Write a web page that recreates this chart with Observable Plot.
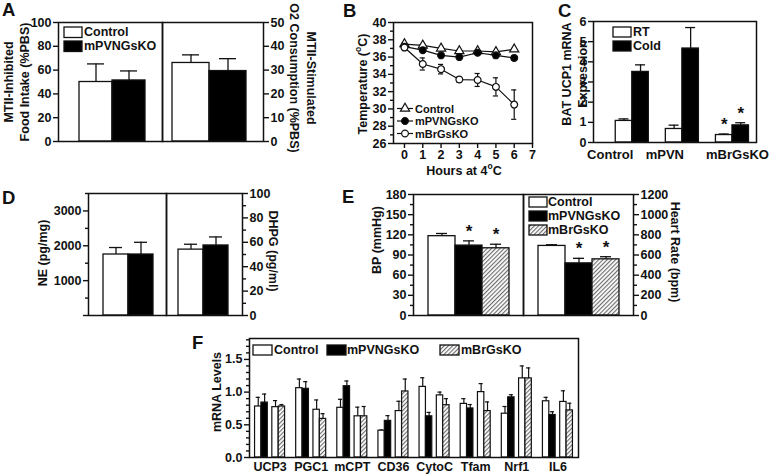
<!DOCTYPE html>
<html><head><meta charset="utf-8">
<script src="https://cdn.jsdelivr.net/npm/d3@7"></script>
<script src="https://cdn.jsdelivr.net/npm/@observablehq/plot@0.6"></script>
<style>
body{margin:0;background:#fff;}
#fig{position:relative;width:771px;height:476px;overflow:hidden;background:#fff;font-family:"Liberation Sans",Arial,sans-serif;}
</style></head><body>
<svg width="0" height="0" style="position:absolute"><defs>
<pattern id="hatch" patternUnits="userSpaceOnUse" width="3" height="3" patternTransform="rotate(45)">
<rect width="3" height="3" fill="#fff"/><line x1="0.6" y1="0" x2="0.6" y2="3" stroke="#666" stroke-width="1.1"/>
</pattern></defs></svg>
<div id="fig"></div>
<script>
// ---------- DATA ----------
// Panel A
const aGroups = ["Control", "mPVNGsKO"];
const aFoodMean = [50, 51.3];
const aFoodErr = [15.2, 8];
const aO2Mean = [33, 29.6];
const aO2Err = [3.4, 5.2];
const aFoodTicks = [0, 20, 40, 60, 80, 100];
const aO2Ticks = [0, 10, 20, 30, 40, 50];
// Panel B
const bSeries = ["Control", "mPVNGsKO", "mBrGsKO"];
const bHours = [0, 1, 2, 3, 4, 5, 6];
const bControl = [37.5, 37.35, 37.0, 36.7, 36.7, 36.6, 36.9];
const bControlErr = [0.1, 0.1, 0.1, 0.1, 0.1, 0.1, 0.1];
const bPVN = [37.2, 36.8, 36.2, 36.0, 36.5, 36.2, 35.9];
const bPVNErr = [0.15, 0.15, 0.15, 0.15, 0.2, 0.3, 0.25];
const bBr = [37.1, 35.2, 34.6, 33.4, 33.35, 32.55, 30.5];
const bBrErr = [0.2, 0.7, 0.55, 0.3, 0.75, 1.05, 1.7];
const bXTicks = [0, 1, 2, 3, 4, 5, 6, 7];
const bYTicks = [26, 28, 30, 32, 34, 36, 38, 40];
const bYMinor = [27, 29, 31, 33, 35, 37, 39];
// Panel C
const cGroups = ["Control", "mPVN", "mBrGsKO"];
const cConds = ["RT", "Cold"];
const cRT = [1.07, 0.67, 0.37];
const cRTErr = [0.1, 0.19, 0.05];
const cCold = [3.5, 4.66, 0.85];
const cColdErr = [0.35, 1.04, 0.13];
const cStar = [false, false, true];
const cTicks = [0, 1, 2, 3, 4, 5, 6];
// Panel D
const dGroups = ["Control", "mPVNGsKO"];
const dNE = [1750, 1750];
const dNEErr = [200, 350];
const dDHPG = [54, 57.4];
const dDHPGErr = [4.4, 7];
const dNETicks = [0, 1000, 2000, 3000];
const dNEMinor = [500, 1500, 2500, 3500];
const dDHPGTicks = [0, 20, 40, 60, 80, 100];
const dDHPGMinor = [10, 30, 50, 70, 90];
// Panel E
const eGroups = ["Control", "mPVNGsKO", "mBrGsKO"];
const eBP = [118, 104, 100];
const eBPErr = [4, 7, 6];
const eHR = [690, 517, 557];
const eHRErr = [12, 50, 26];
const eStar = [false, true, true];
const eBPTicks = [0, 30, 60, 90, 120, 150, 180];
const eBPMinor = [15, 45, 75, 105, 135, 165];
const eHRTicks = [0, 200, 400, 600, 800, 1000, 1200];
const eHRMinor = [100, 300, 500, 700, 900, 1100];
// Panel F
const fGenes = ["UCP3", "PGC1", "mCPT", "CD36", "CytoC", "Tfam", "Nrf1", "IL6"];
const fSeriesNames = ["Control", "mPVNGsKO", "mBrGsKO"];
const fCtrl1 = [0.78, 1.06, 0.76, 0.41, 1.08, 0.82, 0.67, 0.86];
const fCtrl1Err = [0.14, 0.14, 0.13, 0.01, 0.14, 0.08, 0.11, 0.06];
const fPVN = [0.84, 1.05, 1.09, 0.56, 0.63, 0.75, 0.92, 0.65];
const fPVNErr = [0.13, 0.11, 0.08, 0.08, 0.06, 0.06, 0.04, 0.05];
const fCtrl2 = [0.77, 0.73, 0.63, 0.71, 0.95, 1.0, 1.21, 0.85];
const fCtrl2Err = [0.1, 0.15, 0.14, 0.15, 0.05, 0.13, 0.19, 0.17];
const fBr = [0.78, 0.59, 0.63, 1.01, 0.8, 0.71, 1.21, 0.72];
const fBrErr = [0.03, 0.08, 0.15, 0.19, 0.1, 0.14, 0.16, 0.11];
const fTicks = [0, 0.5, 1.0, 1.5];
const fMinor = [0.1, 0.2, 0.3, 0.4, 0.6, 0.7, 0.8, 0.9, 1.1, 1.2, 1.3, 1.4, 1.6, 1.7, 1.8];

// ---------- HELPERS ----------
const W = 771, H = 476;
const fig = document.getElementById("fig");
const FONT = "Liberation Sans, Arial, sans-serif";
const INK = "#111";
const SW = 1.3;
const groupColor = {domain: ["Control", "mPVNGsKO", "mBrGsKO"], range: ["#fff", "#000", "url(#hatch)"]};

function place(frame, opts) {
  const [x1, y1, x2, y2] = frame;
  const m = 40;
  const svg = Plot.plot({
    width: x2 - x1 + 2 * m, height: y2 - y1 + 2 * m,
    marginTop: m, marginRight: m, marginBottom: m, marginLeft: m,
    style: {background: "transparent", overflow: "visible", fontFamily: FONT, fontSize: "12.5px", fontWeight: "bold", color: INK},
    ...opts
  });
  Object.assign(svg.style, {position: "absolute", left: (x1 - m) + "px", top: (y1 - m) + "px", maxWidth: "none", height: (y2 - y1 + 2 * m) + "px"});
  fig.appendChild(svg);
  return svg;
}
function yAxis(anchor, ticks, minor, fmt) {
  const out = [];
  if (minor) out.push(Plot.axisY({anchor, ticks: minor, tickSize: 3, tickFormat: () => "", label: null, strokeWidth: 1.4}));
  out.push(Plot.axisY({anchor, ticks, tickSize: 5, tickPadding: 2, tickFormat: fmt ?? (d => String(d)), label: null, fontSize: 12.5, fontWeight: "bold", strokeWidth: 1.4}));
  return out;
}
function groupBars(groups, means, errs, stars, cap) {
  const rows = groups.map((g, i) => ({g, v: means[i], t: means[i] + errs[i], star: stars ? stars[i] : false}));
  return [
    Plot.ruleX(rows, {x: "g", y1: "v", y2: "t", stroke: INK, strokeWidth: SW}),
    Plot.tickY(rows, {x: "g", y: "t", stroke: INK, strokeWidth: SW, insetLeft: cap, insetRight: cap}),
    Plot.barY(rows, {x: "g", y: "v", fill: "g", stroke: INK, strokeWidth: SW}),
    Plot.text(rows.filter(d => d.star), {x: "g", y: "t", text: () => "*", dy: -4, fontSize: 17, fontWeight: "bold", lineAnchor: "bottom"})
  ];
}
const frameMark = () => Plot.frame({stroke: INK, strokeWidth: 1.5});

// ---------- PANEL A ----------
place([58, 22, 162, 141], {
  x: {type: "band", domain: aGroups, paddingInner: 0, paddingOuter: 0.53, align: 0.556, axis: null},
  y: {domain: [0, 100], label: null}, color: groupColor,
  marks: [...groupBars(aGroups, aFoodMean, aFoodErr, null, 8), frameMark(), ...yAxis("left", aFoodTicks)]
});
place([162, 22, 263, 141], {
  x: {type: "band", domain: aGroups, paddingInner: 0, paddingOuter: 0.347, align: 0.385, axis: null},
  y: {domain: [0, 50], label: null}, color: groupColor,
  marks: [...groupBars(aGroups, aO2Mean, aO2Err, null, 10), frameMark(), ...yAxis("right", aO2Ticks)]
});

// ---------- PANEL B ----------
const bMeans = [bControl, bPVN, bBr], bErrs = [bControlErr, bPVNErr, bBrErr];
const bRows = [];
bSeries.forEach((s, k) => bHours.forEach((h, j) => bRows.push({s, h, v: bMeans[k][j], e: bErrs[k][j]})));
const capH = 0.14;
place([393, 22, 532, 143], {
  x: {domain: [-0.6, 7], label: null},
  y: {domain: [26, 40], label: null},
  color: {domain: bSeries, range: ["#fff", "#000", "#fff"]},
  symbol: {domain: bSeries, range: ["triangle", "circle", "circle"]},
  marks: [
    Plot.line(bRows, {x: "h", y: "v", z: "s", stroke: INK, strokeWidth: 1.2}),
    Plot.ruleX(bRows, {x: "h", y1: d => d.v - d.e, y2: d => d.v + d.e, stroke: INK, strokeWidth: 1.2}),
    Plot.ruleY(bRows, {y: d => d.v + d.e, x1: d => d.h - capH, x2: d => d.h + capH, stroke: INK, strokeWidth: 1.2}),
    Plot.ruleY(bRows, {y: d => d.v - d.e, x1: d => d.h - capH, x2: d => d.h + capH, stroke: INK, strokeWidth: 1.2}),
    Plot.dot(bRows, {x: "h", y: "v", symbol: "s", fill: "s", stroke: INK, strokeWidth: 1.2, r: 3.4}),
    frameMark(),
    ...yAxis("left", bYTicks, bYMinor),
    Plot.axisX({anchor: "bottom", ticks: bXTicks, tickSize: 5, tickPadding: 2, tickFormat: d => String(d), label: null, fontSize: 12.5, fontWeight: "bold", strokeWidth: 1.4})
  ]
});

// ---------- PANEL C ----------
const cRows = [];
cGroups.forEach((g, i) => {
  cRows.push({g, i, cond: "RT", v: cRT[i], t: cRT[i] + cRTErr[i], star: cStar[i]});
  cRows.push({g, i, cond: "Cold", v: cCold[i], t: cCold[i] + cColdErr[i], star: cStar[i]});
});
const cW = 0.33;
const cLeft = d => d.i + 0.5 + (d.cond === "RT" ? -cW : 0);
const cMid = d => cLeft(d) + cW / 2;
const cLabelShift = [-0.44, -0.35, 0.1]; // label placement relative to group centres
place([593, 21, 756, 142], {
  x: {domain: [-0.274, 2.98], label: null, axis: null},
  y: {domain: [0, 6], label: null},
  color: {domain: cConds, range: ["#fff", "#000"]},
  marks: [
    Plot.ruleX(cRows, {x: cMid, y1: "v", y2: "t", stroke: INK, strokeWidth: SW}),
    Plot.ruleY(cRows, {y: "t", x1: d => cMid(d) - 0.1, x2: d => cMid(d) + 0.1, stroke: INK, strokeWidth: SW}),
    Plot.rectY(cRows, {x1: cLeft, x2: d => cLeft(d) + cW, y1: 0, y2: "v", fill: "cond", stroke: INK, strokeWidth: SW}),
    Plot.text(cRows.filter(d => d.star), {x: cMid, y: "t", text: () => "*", dy: -4, fontSize: 17, fontWeight: "bold", lineAnchor: "bottom"}),
    frameMark(),
    ...yAxis("left", cTicks),
    Plot.text(cGroups, {x: (g, i) => i + 0.5 + cLabelShift[i], frameAnchor: "bottom", text: g => g, dy: 16, fontSize: 13, fontWeight: "bold"})
  ]
});

// ---------- PANEL D ----------
place([88, 193, 166, 315], {
  x: {type: "band", domain: dGroups, paddingInner: 0, paddingOuter: 0.53, align: 0.52, axis: null},
  y: {domain: [0, 3500], label: null}, color: groupColor,
  marks: [...groupBars(dGroups, dNE, dNEErr, null, 6), frameMark(), ...yAxis("left", dNETicks, dNEMinor, d => d === 0 ? "" : String(d))]
});
place([166, 193, 242, 315], {
  x: {type: "band", domain: dGroups, paddingInner: 0, paddingOuter: 0.49, align: 0.48, axis: null},
  y: {domain: [0, 100], label: null}, color: groupColor,
  marks: [...groupBars(dGroups, dDHPG, dDHPGErr, null, 6), frameMark(), ...yAxis("right", dDHPGTicks, dDHPGMinor)]
});

// ---------- PANEL E ----------
place([413, 194, 523, 315], {
  x: {type: "band", domain: eGroups, paddingInner: 0, paddingOuter: 0.5, align: 0.5, axis: null},
  y: {domain: [0, 180], label: null}, color: groupColor,
  marks: [...groupBars(eGroups, eBP, eBPErr, eStar, 8), frameMark(), ...yAxis("left", eBPTicks, eBPMinor)]
});
place([523, 194, 633, 315], {
  x: {type: "band", domain: eGroups, paddingInner: 0, paddingOuter: 0.5, align: 0.5, axis: null},
  y: {domain: [0, 1200], label: null}, color: groupColor,
  marks: [...groupBars(eGroups, eHR, eHRErr, eStar, 8), frameMark(), ...yAxis("right", eHRTicks, eHRMinor)]
});

// ---------- PANEL F ----------
const fVals = [fCtrl1, fPVN, fCtrl2, fBr], fErrs = [fCtrl1Err, fPVNErr, fCtrl2Err, fBrErr];
const fSlotSeries = ["Control", "mPVNGsKO", "Control", "mBrGsKO"];
const fSlotStart = [0.135, 0.29, 0.555, 0.71];
const fBW = 0.155;
const fRows = [];
fGenes.forEach((g, i) => fVals.forEach((arr, k) => fRows.push({g, i, k, s: fSlotSeries[k], v: arr[i], t: arr[i] + fErrs[k][i]})));
const fL = d => d.i + fSlotStart[d.k];
const fM = d => fL(d) + fBW / 2;
place([249, 338, 578, 457], {
  x: {domain: [0, 8], label: null},
  y: {domain: [0, 1.82], label: null},
  color: groupColor,
  marks: [
    Plot.ruleX(fRows, {x: fM, y1: "v", y2: "t", stroke: INK, strokeWidth: 1.2}),
    Plot.ruleY(fRows, {y: "t", x1: d => fM(d) - 0.05, x2: d => fM(d) + 0.05, stroke: INK, strokeWidth: 1.2}),
    Plot.rectY(fRows, {x1: fL, x2: d => fL(d) + fBW, y1: 0, y2: "v", fill: "s", stroke: INK, strokeWidth: 1.2}),
    frameMark(),
    ...yAxis("left", fTicks, fMinor, d => d.toFixed(1)),
    Plot.axisX({anchor: "bottom", ticks: fGenes.map((g, i) => i + 0.5), tickSize: 0, tickPadding: 5, tickFormat: d => fGenes[Math.floor(d)], label: null, fontSize: 12.5, fontWeight: "bold"})
  ]
});

// ---------- OVERLAY: panel letters, titles, legends ----------
const ov = d3.select(fig).append("svg").attr("width", W).attr("height", H)
  .style("position", "absolute").style("left", "0px").style("top", "0px").style("overflow", "visible")
  .attr("font-family", FONT).attr("font-weight", "bold").attr("fill", INK);

function txt(x, y, parts, opt = {}) {
  const t = ov.append("text").attr("x", x).attr("y", y)
    .attr("font-size", opt.size ?? 12.5)
    .attr("text-anchor", opt.anchor ?? "middle")
    .attr("dominant-baseline", opt.base ?? "central");
  if (opt.rot) t.attr("transform", `rotate(${opt.rot},${x},${y})`);
  if (typeof parts === "string") t.text(parts);
  else {
    let shift = 0;
    parts.forEach(p => {
      const sp = t.append("tspan").text(p.s);
      if (p.sup) { sp.attr("font-size", 8.5).attr("dy", -5); shift = 5; }
      else if (shift) { sp.attr("dy", shift); shift = 0; }
    });
  }
  return t;
}
// panel letters
[["A", 2, 16], ["B", 343, 17], ["C", 558, 17], ["D", 2, 204], ["E", 342, 203], ["F", 192, 349]]
  .forEach(([l, x, y]) => txt(x, y, l, {size: 18.5, anchor: "start", base: "alphabetic"}));

// axis titles
txt(9, 82, "MTII-Inhibited", {rot: -90});
txt(25, 82, "Food Intake (%PBS)", {rot: -90});
txt(311, 78, "MTII-Stimulated", {rot: 90});
txt(294, 78, "O2 Consumption (%PBS)", {rot: 90});
txt(363, 84, [{s: "Temperature ("}, {s: "o", sup: true}, {s: "C)"}], {rot: -90});
txt(464, 171, [{s: "Hours at 4"}, {s: "o", sup: true}, {s: "C"}]);
txt(567, 74, "BAT UCP1 mRNA", {rot: -90});
txt(583, 74, "Expression", {rot: -90});
txt(43, 253, "NE (pg/mg)", {rot: -90});
txt(273, 251, "DHPG (pg/ml)", {rot: 90});
txt(377, 240, "BP (mmHg)", {rot: -90});
txt(675, 252, "Heart Rate (bpm)", {rot: 90});
txt(217, 392, "mRNA Levels", {rot: -90});

// box legends
const fillOf = s => groupColor.range[groupColor.domain.indexOf(s)];
function boxLegend(items) {
  items.forEach(([name, fill, x, y, w, h, tx]) => {
    ov.append("rect").attr("x", x).attr("y", y).attr("width", w).attr("height", h)
      .attr("fill", fill).attr("stroke", INK).attr("stroke-width", 1.3);
    txt(tx, y + h / 2, name, {anchor: "start"});
  });
}
boxLegend([
  [aGroups[0], fillOf(aGroups[0]), 64, 27, 18, 10.5, 84],
  [aGroups[1], fillOf(aGroups[1]), 64, 41, 18, 10.5, 84]
]);
boxLegend([
  [cConds[0], "#fff", 613, 27, 18, 10, 633],
  [cConds[1], "#000", 613, 41, 18, 10, 633]
]);
boxLegend(eGroups.map((g, i) => [g, fillOf(g), 529, 197 + i * 14, 18, 10, 548]));
boxLegend(fSeriesNames.map((g, i) => [g, fillOf(g), [253, 327, 440][i], 345, 19, 10, [274, 347, 461][i]]));

// line legend for B
const bSym = [d3.symbolTriangle, d3.symbolCircle, d3.symbolCircle];
const bFill = ["#fff", "#000", "#fff"];
bSeries.forEach((s, i) => {
  const cy = 108.5 + i * 12.5;
  ov.append("line").attr("x1", 397).attr("x2", 413).attr("y1", cy).attr("y2", cy).attr("stroke", INK).attr("stroke-width", 1.2);
  ov.append("path").attr("d", d3.symbol(bSym[i], 36)()).attr("transform", `translate(405,${cy})`)
    .attr("fill", bFill[i]).attr("stroke", INK).attr("stroke-width", 1.2);
  txt(415, cy, s, {anchor: "start", size: 11});
});
</script></body></html>
